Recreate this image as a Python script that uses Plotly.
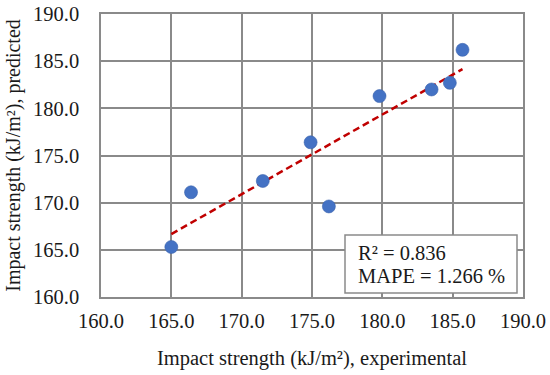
import numpy as np
import plotly.graph_objects as go

# Data
experimental = [165.0, 166.4, 171.5, 174.9, 176.2, 179.8, 183.5, 184.8, 185.7]
predicted = [165.3, 171.1, 172.3, 176.4, 169.6, 181.3, 182.0, 182.7, 186.2]
tick_vals = [160, 165, 170, 175, 180, 185, 190]
tick_text = ["160.0", "165.0", "170.0", "175.0", "180.0", "185.0", "190.0"]
r2_text = "R² = 0.836"
mape_text = "MAPE = 1.266 %"

# Linear trend line (least squares fit of the data)
slope, intercept = np.polyfit(experimental, predicted, 1)
trend_x = [min(experimental), max(experimental)]
trend_y = [slope * v + intercept for v in trend_x]

FONT = "Liberation Serif, Times New Roman, serif"
GRID = "#8a8a8a"
TXT = "#1a1a1a"
FS = 20.5

L, R, T, B = 101, 27, 14, 78
PH = 283  # plot height in px (14..297)

def py(page_y):
    return (297 - page_y) / PH

def px(page_x):
    return (page_x - 101) / 422

fig = go.Figure()
fig.add_trace(go.Scatter(
    x=trend_x, y=trend_y, mode="lines",
    line=dict(color="#C00000", width=2.5, dash="7px,4px"),
    hoverinfo="skip", showlegend=False,
))
fig.add_trace(go.Scatter(
    x=experimental, y=predicted, mode="markers",
    marker=dict(size=13, color="#4472C4", line=dict(width=0.6, color="#3a63ad")),
    showlegend=False,
))

axis_common = dict(
    range=[160, 190], tickvals=tick_vals, ticktext=tick_text,
    showgrid=True, gridcolor=GRID, gridwidth=1.5,
    showline=True, linecolor=GRID, linewidth=1.5, mirror=True,
    zeroline=False, ticks="", automargin=False, ticklabeloverflow="allow",
    tickfont=dict(family=FONT, size=FS, color=TXT),
)

fig.update_layout(
    width=550, height=375,
    margin=dict(l=L, r=R, t=T, b=B, autoexpand=False),
    paper_bgcolor="white", plot_bgcolor="white",
    font=dict(family=FONT, size=FS, color=TXT),
    xaxis=dict(**axis_common, ticklabelstandoff=5,
               title=dict(text="Impact strength (kJ/m²), experimental",
                          font=dict(family=FONT, size=FS, color=TXT),
                          standoff=19)),
    yaxis=dict(**axis_common, ticklabelstandoff=16,
               title=dict(text="Impact strength (kJ/m²), predicted",
                          font=dict(family=FONT, size=20, color=TXT),
                          standoff=7)),
    shapes=[dict(
        type="rect", xref="paper", yref="paper",
        x0=px(345), x1=px(517), y0=py(293), y1=py(235),
        fillcolor="white", line=dict(color=GRID, width=1.5), layer="above",
    )],
    annotations=[
        dict(xref="paper", yref="paper", x=px(356), y=py(253),
             xanchor="left", yanchor="middle", align="left",
             text=r2_text, showarrow=False,
             font=dict(family=FONT, size=FS, color=TXT)),
        dict(xref="paper", yref="paper", x=px(356), y=py(276),
             xanchor="left", yanchor="middle", align="left",
             text=mape_text, showarrow=False,
             font=dict(family=FONT, size=FS, color=TXT)),
    ],
)

fig.write_html(
    "out.html",
    config={"displayModeBar": False},
    post_script="document.body.style.margin='0';document.body.style.overflow='hidden';",
)
